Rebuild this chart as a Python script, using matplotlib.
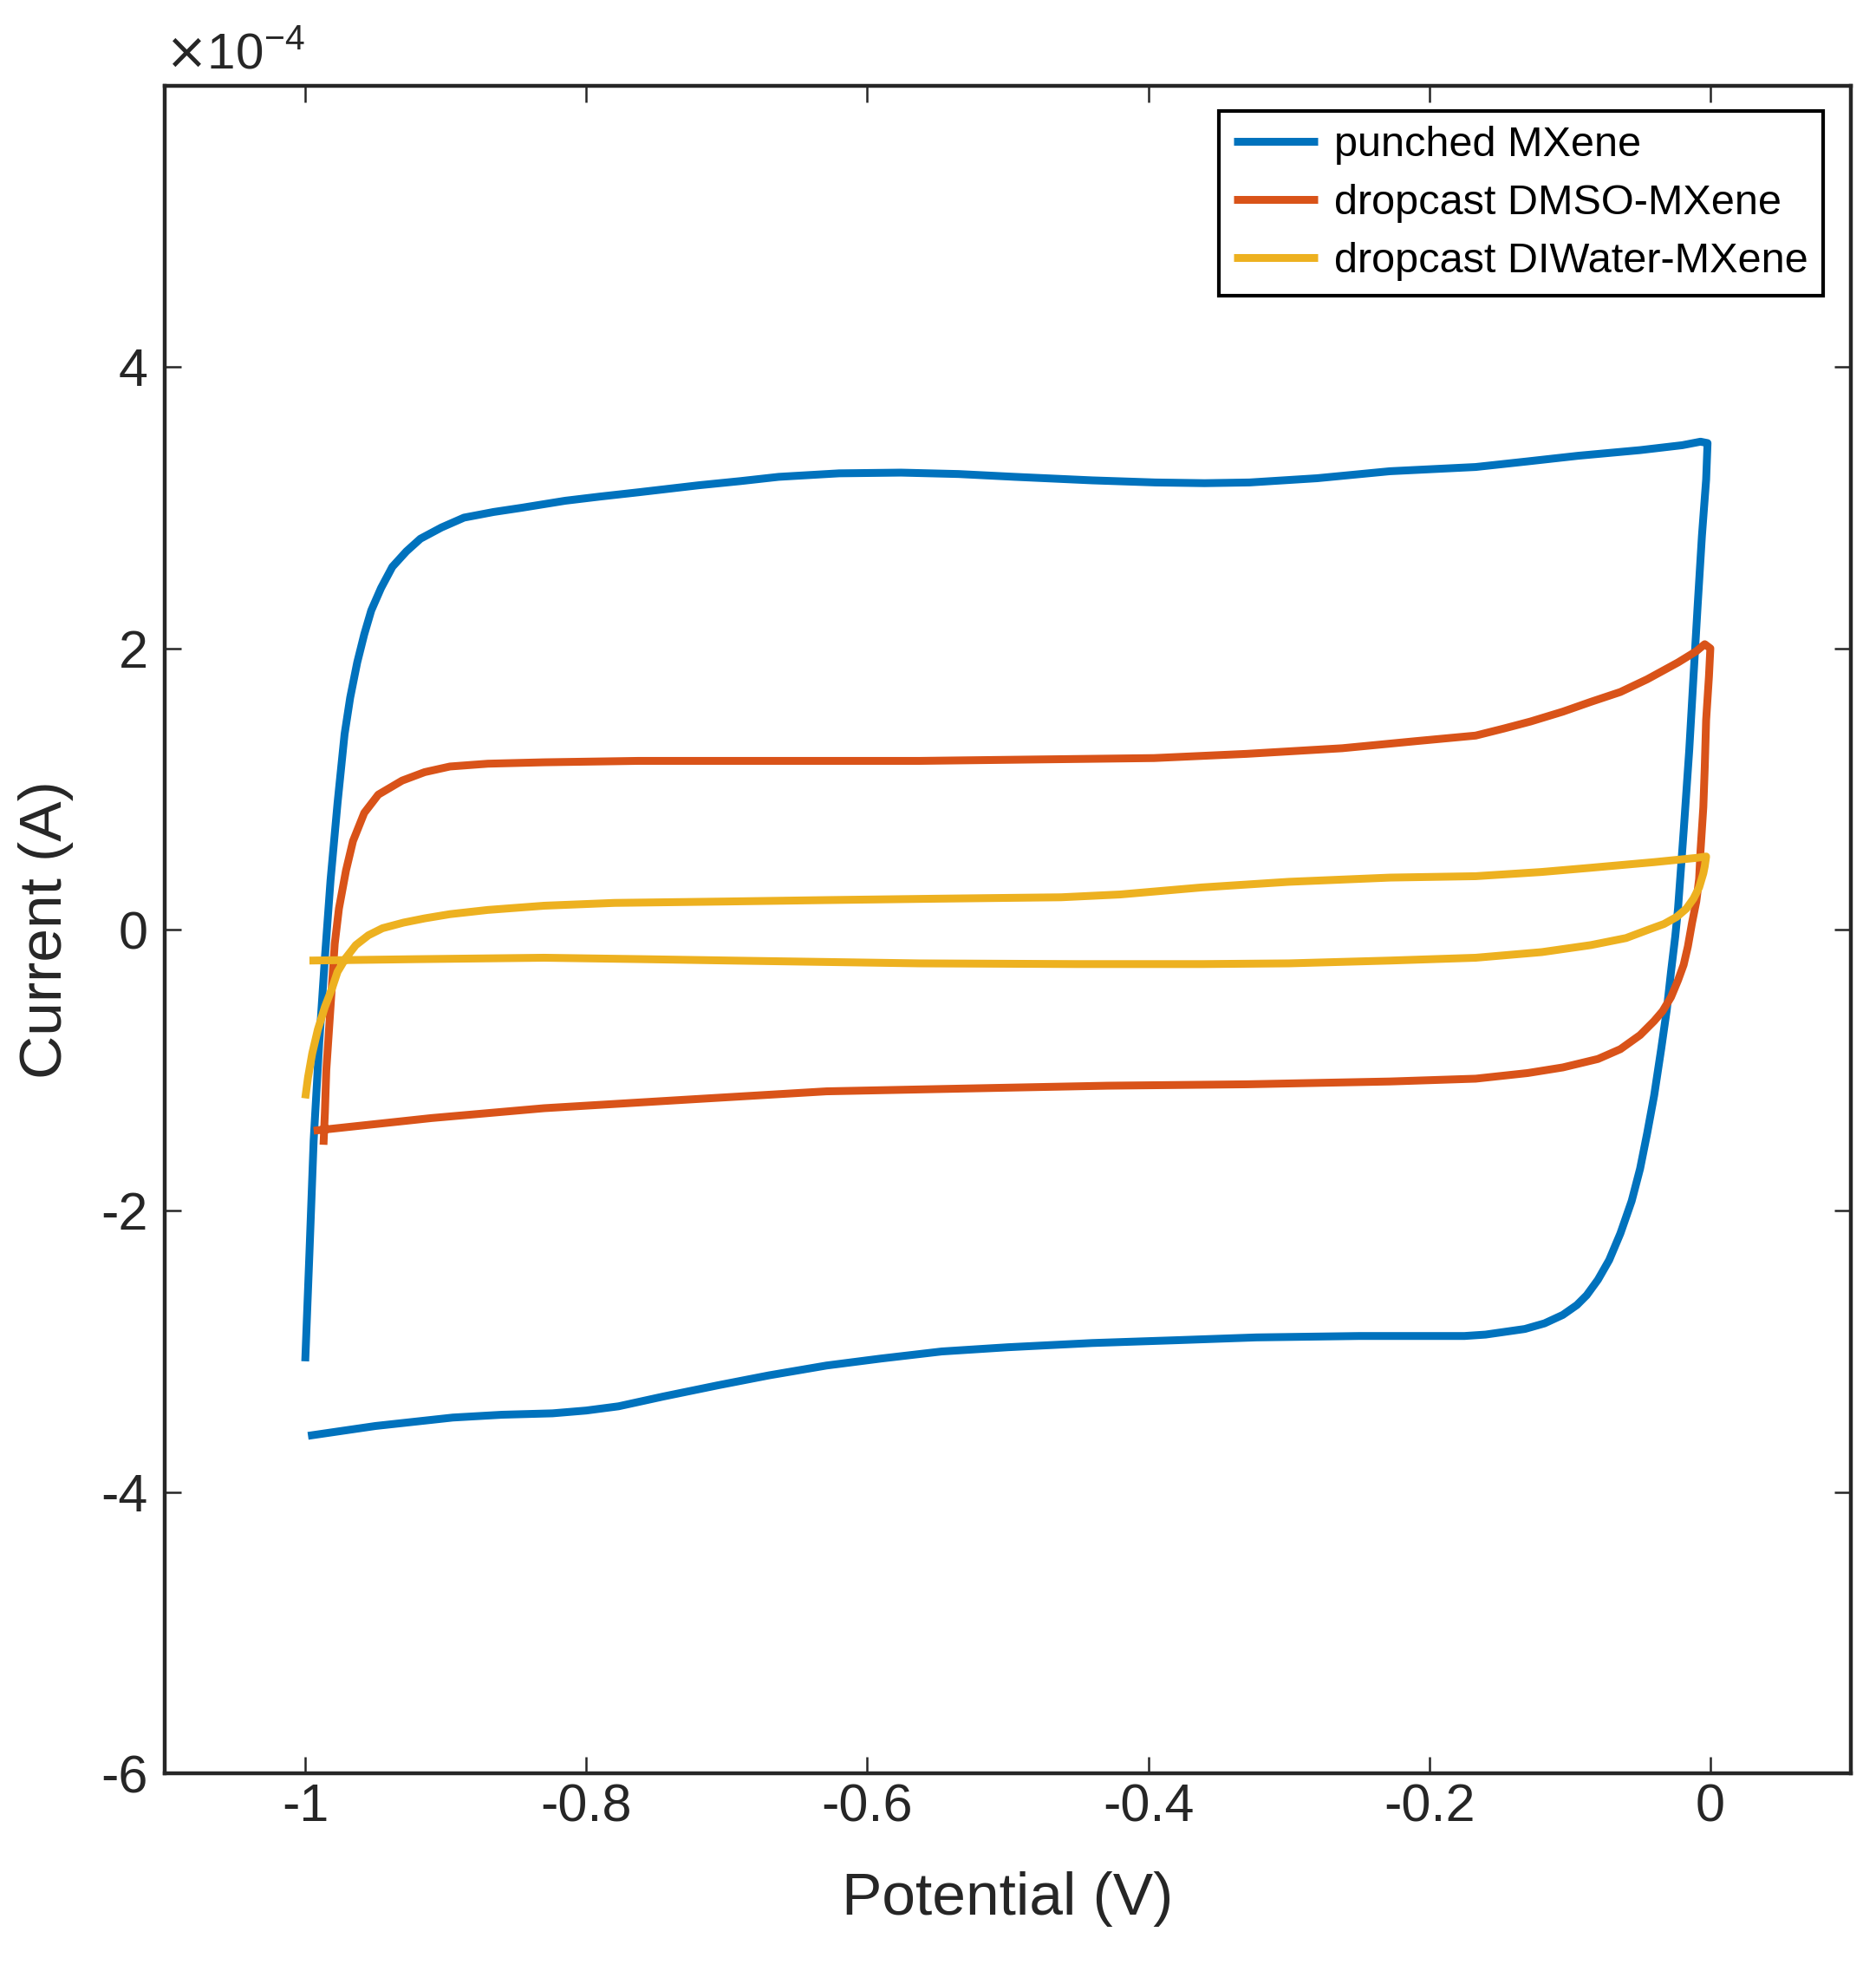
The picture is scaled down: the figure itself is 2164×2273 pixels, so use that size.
import matplotlib
matplotlib.use("Agg")
import matplotlib.pyplot as plt
import numpy as np

plt.rcParams['font.family'] = ['Liberation Sans', 'DejaVu Sans']
plt.rcParams['axes.unicode_minus'] = False

# Data (current in units of 1e-4 A)
labels = ["punched MXene", "dropcast DMSO-MXene", "dropcast DIWater-MXene"]
colors = ["#0072BD", "#D95319", "#EDB120"]

punched_x = [-1.0, -0.997, -0.994, -0.99, -0.986, -0.982, -0.977, -0.972, -0.968, -0.963,
             -0.958, -0.953, -0.946, -0.938, -0.928, -0.918, -0.903, -0.887, -0.866, -0.846,
             -0.815, -0.79, -0.763, -0.72, -0.69, -0.663, -0.62, -0.576, -0.535, -0.495,
             -0.44, -0.395, -0.36, -0.328, -0.28, -0.228, -0.167, -0.13, -0.094, -0.05,
             -0.02, -0.007, -0.002,
             -0.003, -0.006, -0.009, -0.012, -0.015, -0.019, -0.023, -0.025, -0.028, -0.031,
             -0.035, -0.040, -0.045, -0.050, -0.056, -0.064, -0.072, -0.08, -0.088, -0.095,
             -0.105, -0.118, -0.132, -0.146, -0.16, -0.175, -0.25, -0.323, -0.38, -0.44,
             -0.5, -0.547, -0.59, -0.629, -0.67, -0.706, -0.745, -0.777, -0.80, -0.824,
             -0.86, -0.895, -0.95, -0.998]
punched_y = [-3.07, -2.3, -1.5, -0.8, -0.2, 0.35, 0.9, 1.39, 1.65, 1.90,
             2.1, 2.27, 2.43, 2.58, 2.69, 2.78, 2.86, 2.93, 2.97, 3.0,
             3.05, 3.08, 3.11, 3.16, 3.19, 3.22, 3.245, 3.25, 3.24, 3.22,
             3.195, 3.18, 3.175, 3.18, 3.21, 3.26, 3.29, 3.33, 3.37, 3.41,
             3.445, 3.47, 3.46,
             3.2, 2.8, 2.31, 1.8, 1.28, 0.7, 0.15, -0.05, -0.3, -0.57,
             -0.85, -1.18, -1.45, -1.70, -1.93, -2.16, -2.35, -2.49, -2.6, -2.67,
             -2.74, -2.80, -2.84, -2.86, -2.88, -2.89, -2.89, -2.90, -2.92, -2.94,
             -2.97, -3.0, -3.05, -3.10, -3.17, -3.24, -3.32, -3.39, -3.42, -3.44,
             -3.45, -3.47, -3.53, -3.60]

dmso_x = [-0.987, -0.986, -0.985, -0.983, -0.981, -0.979, -0.976, -0.971, -0.966, -0.958,
          -0.948, -0.931, -0.915, -0.897, -0.87, -0.83, -0.763, -0.65, -0.563, -0.48,
          -0.396, -0.33, -0.262, -0.21, -0.167, -0.147, -0.128, -0.105, -0.085, -0.064,
          -0.045, -0.023, -0.01, -0.004, 0.0,
          -0.001, -0.003, -0.004, -0.005, -0.007, -0.008, -0.010, -0.013, -0.016, -0.019,
          -0.023, -0.028, -0.034, -0.040, -0.05, -0.064, -0.08, -0.105, -0.13, -0.167,
          -0.228, -0.33, -0.429, -0.53, -0.629, -0.73, -0.83, -0.91, -0.994]
dmso_y = [-1.53, -1.3, -1.0, -0.7, -0.40, -0.1, 0.15, 0.42, 0.63, 0.83,
          0.96, 1.06, 1.12, 1.16, 1.18, 1.19, 1.20, 1.20, 1.20, 1.21,
          1.22, 1.25, 1.29, 1.34, 1.38, 1.43, 1.48, 1.55, 1.62, 1.69,
          1.78, 1.90, 1.98, 2.03, 2.0,
          1.8, 1.49, 1.15, 0.87, 0.56, 0.36, 0.2, 0.05, -0.12, -0.25,
          -0.36, -0.48, -0.58, -0.65, -0.75, -0.85, -0.92, -0.98, -1.02, -1.06,
          -1.08, -1.10, -1.11, -1.13, -1.15, -1.21, -1.27, -1.34, -1.43]

diwater_x = [-1.0, -0.998, -0.995, -0.991, -0.986, -0.981, -0.977, -0.971, -0.964, -0.955,
             -0.945, -0.93, -0.915, -0.897, -0.87, -0.83, -0.78, -0.7, -0.629, -0.55,
             -0.462, -0.42, -0.362, -0.3, -0.228, -0.167, -0.12, -0.085, -0.04, -0.01,
             -0.003,
             -0.004, -0.005, -0.008, -0.012, -0.017, -0.024, -0.033, -0.044, -0.06, -0.085,
             -0.12, -0.167, -0.228, -0.3, -0.362, -0.45, -0.563, -0.63, -0.697, -0.76,
             -0.83, -0.92, -0.997]
diwater_y = [-1.2, -1.05, -0.88, -0.71, -0.55, -0.42, -0.30, -0.2, -0.11, -0.04,
             0.01, 0.05, 0.08, 0.11, 0.14, 0.17, 0.19, 0.20, 0.21, 0.22,
             0.23, 0.25, 0.30, 0.34, 0.37, 0.38, 0.41, 0.44, 0.48, 0.51,
             0.52,
             0.45, 0.40, 0.30, 0.22, 0.15, 0.09, 0.04, 0.0, -0.06, -0.11,
             -0.16, -0.20, -0.22, -0.24, -0.245, -0.245, -0.24, -0.23, -0.22, -0.21,
             -0.20, -0.21, -0.22]

series_x = [punched_x, dmso_x, diwater_x]
series_y = [punched_y, dmso_y, diwater_y]

xticks = [-1, -0.8, -0.6, -0.4, -0.2, 0]
xticklabels = ["-1", "-0.8", "-0.6", "-0.4", "-0.2", "0"]
yticks = [-6, -4, -2, 0, 2, 4]
yticklabels = ["-6", "-4", "-2", "0", "2", "4"]

fig = plt.figure(figsize=(21.64, 22.73), dpi=100)
ax = fig.add_axes([0.0878, 0.1003, 0.8988, 0.8561])

for xs, ys, c, lab in zip(series_x, series_y, colors, labels):
    ax.plot(xs, ys, color=c, lw=6.5, label=lab, solid_joinstyle='round', solid_capstyle='butt')

ax.set_xlim(-1.1, 0.1)
ax.set_ylim(-6, 6)
ax.set_xticks(xticks)
ax.set_xticklabels(xticklabels)
ax.set_yticks(yticks)
ax.set_yticklabels(yticklabels)

edge = "#262626"
for s in ax.spines.values():
    s.set_linewidth(3.2)
    s.set_color(edge)
ax.tick_params(direction='in', length=14, width=1.8, color=edge, labelcolor=edge,
               top=True, right=True, labelsize=44)
ax.tick_params(axis='x', pad=8)
ax.tick_params(axis='y', pad=14)

ax.set_xlabel("Potential (V)", fontsize=50, color=edge)
ax.set_ylabel("Current (A)", fontsize=50, color=edge)
ax.xaxis.set_label_coords(0.5, -0.058)
ax.yaxis.set_label_coords(-0.054, 0.5)

ax.text(0.0, 1.004, r"$\times$10$^{\mathregular{-4}}$", transform=ax.transAxes,
        fontsize=42, color=edge, ha='left', va='bottom')

leg = ax.legend(loc='upper right', bbox_to_anchor=(0.9836, 0.985), borderaxespad=0,
                fontsize=35, frameon=True, fancybox=False, edgecolor='black',
                handlelength=2.0, handletextpad=0.4, labelspacing=0.45, borderpad=0.35)
leg.get_frame().set_linewidth(3.0)
leg.get_frame().set_alpha(1)
for h in leg.get_lines():
    h.set_linewidth(6.5)

fig.savefig("out.png", dpi=100, facecolor='white')
